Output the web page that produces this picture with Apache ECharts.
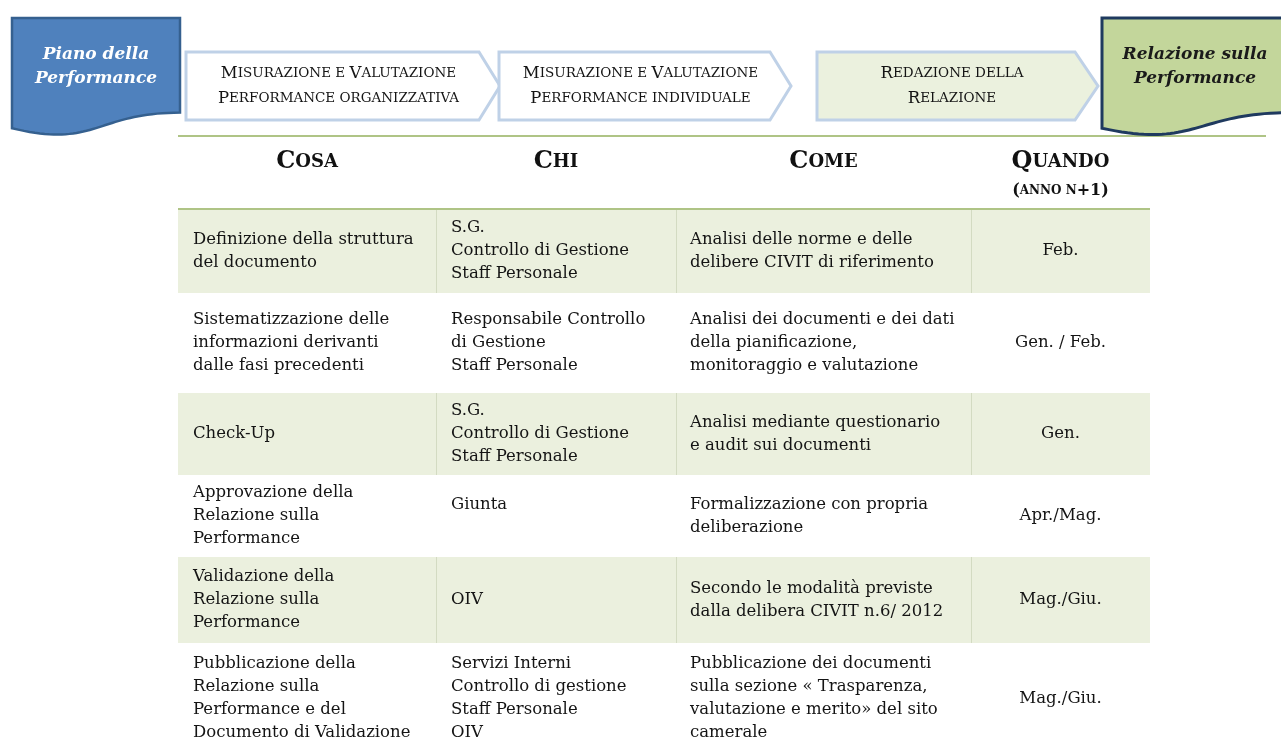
<!DOCTYPE html>
<html><head><meta charset="utf-8">
<script src="https://cdn.jsdelivr.net/npm/echarts@6/dist/echarts.min.js"></script>
<style>html,body{margin:0;padding:0;background:#fff}#c{width:1281px;height:744px}</style>
</head><body><div id="c"></div>
<script>
// ---------- DATA ----------
const headers = ['Cosa', 'Chi', 'Come', 'Quando'];
const headerNotes = ['', '', '', '(anno n+1)'];
const cosa = [
  'Definizione della struttura\ndel documento',
  'Sistematizzazione delle\ninformazioni derivanti\ndalle fasi precedenti',
  'Check-Up',
  'Approvazione della\nRelazione sulla\nPerformance',
  'Validazione della\nRelazione sulla\nPerformance',
  'Pubblicazione della\nRelazione sulla\nPerformance e del\nDocumento di Validazione'
];
const chi = [
  'S.G.\nControllo di Gestione\nStaff Personale',
  'Responsabile Controllo\ndi Gestione\nStaff Personale',
  'S.G.\nControllo di Gestione\nStaff Personale',
  'Giunta\n',
  'OIV',
  'Servizi Interni\nControllo di gestione\nStaff Personale\nOIV'
];
const come = [
  'Analisi delle norme e delle\ndelibere CIVIT di riferimento',
  'Analisi dei documenti e dei dati\ndella pianificazione,\nmonitoraggio e valutazione',
  'Analisi mediante questionario\ne audit sui documenti',
  'Formalizzazione con propria\ndeliberazione',
  'Secondo le modalità previste\ndalla delibera CIVIT n.6/ 2012',
  'Pubblicazione dei documenti\nsulla sezione « Trasparenza,\nvalutazione e merito» del sito\ncamerale'
];
const quando = ['Feb.', 'Gen. / Feb.', 'Gen.', 'Apr./Mag.', 'Mag./Giu.', 'Mag./Giu.'];
const phases = [
  'Misurazione e Valutazione\nPerformance organizzativa',
  'Misurazione e Valutazione\nPerformance individuale',
  'Redazione della\nRelazione'
];
const documents = ['Piano della\nPerformance', 'Relazione sulla\nPerformance'];

// ---------- LAYOUT (axis units = page pixels) ----------
const COL_EDGES = [178, 436, 676, 971, 1150];
const ROW_EDGES = [136, 209, 293, 393, 475, 557, 643, 754];
const COL_PAD = [15, 15, 14, 0];
const PHASE_BOXES = [[186, 479, 500], [499, 770, 791], [817, 1075, 1098]];
const PHASE_FILL = ['#ffffff', '#ffffff', '#ebf1de'];
const PHASE_Y = [52, 120];
const DOC_BOXES = [[12, 180], [1102, 1290]];
const DOC_Y = [18, 136];
const DOC_STYLE = [
  {fill: '#4f81bd', stroke: '#35608f', lw: 2.5, text: '#ffffff'},
  {fill: '#c3d69b', stroke: '#1f3a5f', lw: 3, text: '#1a1a1a'}
];
const SERIF = '"DejaVu Serif", "Liberation Serif", serif';
const INK = '#141414';
const columns = [cosa, chi, come, quando];

function smallCaps(str) {
  return str.split('\n').map(function (line) {
    let out = '', cur = null, buf = '';
    for (const ch of line) {
      let k;
      if (ch === ' ') k = cur || 'b';
      else k = (ch !== ch.toUpperCase()) ? 's' : 'b';
      if (k !== cur) { if (buf) out += '{' + cur + '|' + buf + '}'; buf = ''; cur = k; }
      buf += ch.toUpperCase();
    }
    if (buf) out += '{' + cur + '|' + buf + '}';
    return out;
  }).join('\n');
}

const tableData = [];
for (let r = 0; r < cosa.length; r++) for (let c = 0; c < columns.length; c++) tableData.push([c, r]);

const chart = echarts.init(document.getElementById('c'), null, {renderer: 'canvas'});
chart.setOption({
  animation: false,
  backgroundColor: '#ffffff',
  grid: {left: 0, right: 0, top: 0, bottom: 0},
  xAxis: {type: 'value', min: 0, max: 1281, show: false},
  yAxis: {type: 'value', min: 0, max: 744, inverse: true, show: false},
  series: [
    { // table body
      type: 'custom', coordinateSystem: 'cartesian2d', silent: true,
      data: tableData,
      renderItem: function (params, api) {
        const c = api.value(0), r = api.value(1);
        const p0 = api.coord([COL_EDGES[c], ROW_EDGES[r + 1]]);
        const p1 = api.coord([COL_EDGES[c + 1], ROW_EDGES[r + 2]]);
        const children = [];
        const shaded = r % 2 === 0;
        if (shaded) {
          children.push({type: 'rect', shape: {x: p0[0], y: p0[1], width: p1[0] - p0[0], height: p1[1] - p0[1]},
            style: {fill: '#ebf0de'}});
          if (c > 0) children.push({type: 'line', shape: {x1: p0[0] + 0.5, y1: p0[1], x2: p0[0] + 0.5, y2: p1[1]},
            style: {stroke: '#d3dbc2', lineWidth: 1}});
        }
        const centered = c === 3;
        children.push({type: 'text', x: centered ? (p0[0] + p1[0]) / 2 : p0[0] + COL_PAD[c], y: (p0[1] + p1[1]) / 2,
          style: {text: columns[c][r], fill: INK, fontSize: 16.5, fontFamily: SERIF, lineHeight: 23,
            align: centered ? 'center' : 'left', verticalAlign: 'middle'}});
        return {type: 'group', children: children};
      }
    },
    { // header
      type: 'custom', coordinateSystem: 'cartesian2d', silent: true,
      data: headers.map(function (h, i) { return [i, 0]; }),
      renderItem: function (params, api) {
        const c = api.value(0);
        const children = [];
        if (c === 0) {
          const a = api.coord([COL_EDGES[0], ROW_EDGES[0]]);
          const b = api.coord([1266, ROW_EDGES[0]]);
          const d = api.coord([COL_EDGES[4], ROW_EDGES[1]]);
          children.push({type: 'line', shape: {x1: a[0], y1: a[1], x2: b[0], y2: b[1]}, style: {stroke: '#afc486', lineWidth: 2}});
          children.push({type: 'line', shape: {x1: a[0], y1: d[1], x2: d[0], y2: d[1]}, style: {stroke: '#afc486', lineWidth: 2}});
        }
        const m = api.coord([(COL_EDGES[c] + COL_EDGES[c + 1]) / 2, 162]);
        children.push({type: 'text', x: m[0], y: m[1], style: {
          text: smallCaps(headers[c]), align: 'center', verticalAlign: 'middle',
          rich: {b: {fontSize: 24, fontWeight: 'bold', fontFamily: SERIF, fill: '#111'},
                 s: {fontSize: 18, fontWeight: 'bold', fontFamily: SERIF, fill: '#111'}}}});
        if (headerNotes[c]) {
          const n = api.coord([(COL_EDGES[c] + COL_EDGES[c + 1]) / 2, 191]);
          children.push({type: 'text', x: n[0], y: n[1], style: {
            text: smallCaps(headerNotes[c]), align: 'center', verticalAlign: 'middle',
            rich: {b: {fontSize: 16, fontWeight: 'bold', fontFamily: SERIF, fill: '#111'},
                   s: {fontSize: 12, fontWeight: 'bold', fontFamily: SERIF, fill: '#111'}}}});
        }
        return {type: 'group', children: children};
      }
    },
    { // phase arrows
      type: 'custom', coordinateSystem: 'cartesian2d', silent: true,
      data: phases.map(function (p, i) { return [i, 0]; }),
      renderItem: function (params, api) {
        const i = api.value(0);
        const bx = PHASE_BOXES[i];
        const mid = (PHASE_Y[0] + PHASE_Y[1]) / 2;
        const pts = [[bx[0], PHASE_Y[0]], [bx[1], PHASE_Y[0]], [bx[2], mid], [bx[1], PHASE_Y[1]], [bx[0], PHASE_Y[1]]]
          .map(function (p) { return api.coord(p); });
        const t = api.coord([(bx[0] + bx[1]) / 2 + 6, mid]);
        return {type: 'group', children: [
          {type: 'polygon', shape: {points: pts}, style: {fill: PHASE_FILL[i], stroke: '#bfd1e7', lineWidth: 3}},
          {type: 'text', x: t[0], y: t[1], style: {
            text: smallCaps(phases[i]), align: 'center', verticalAlign: 'middle',
            rich: {b: {fontSize: 16.5, fontFamily: SERIF, fill: INK, lineHeight: 25},
                   s: {fontSize: 13.5, fontFamily: SERIF, fill: INK, lineHeight: 25}}}}
        ]};
      }
    },
    { // document shapes
      type: 'custom', coordinateSystem: 'cartesian2d', silent: true,
      data: documents.map(function (d, i) { return [i, 0]; }),
      renderItem: function (params, api) {
        const i = api.value(0);
        const x0 = DOC_BOXES[i][0], x1 = DOC_BOXES[i][1];
        const y0 = DOC_Y[0], h = DOC_Y[1] - DOC_Y[0], w = x1 - x0;
        const yr = y0 + h * 0.802, yl = y0 + h * 0.934;
        const P0 = [x1, yr], C1 = [x0 + w / 2, yr], C2 = [x0 + w / 2, y0 + h * 1.1075], P3 = [x0, yl];
        const pts = [[x0, y0], [x1, y0]];
        for (let k = 0; k <= 40; k++) {
          const t = k / 40, u = 1 - t;
          pts.push([
            u*u*u*P0[0] + 3*u*u*t*C1[0] + 3*u*t*t*C2[0] + t*t*t*P3[0],
            u*u*u*P0[1] + 3*u*u*t*C1[1] + 3*u*t*t*C2[1] + t*t*t*P3[1]
          ]);
        }
        const st = DOC_STYLE[i];
        const tc = api.coord([i === 0 ? x0 + w / 2 : 1195, y0 + 49]);
        return {type: 'group', children: [
          {type: 'polygon', shape: {points: pts.map(function (p) { return api.coord(p); })},
            style: {fill: st.fill, stroke: st.stroke, lineWidth: st.lw, lineJoin: 'miter'}},
          {type: 'text', x: tc[0], y: tc[1], style: {text: documents[i], fill: st.text, fontSize: 17,
            fontWeight: 'bold', fontStyle: 'italic', fontFamily: SERIF, lineHeight: 24,
            align: 'center', verticalAlign: 'middle'}}
        ]};
      }
    }
  ]
});
</script></body></html>
